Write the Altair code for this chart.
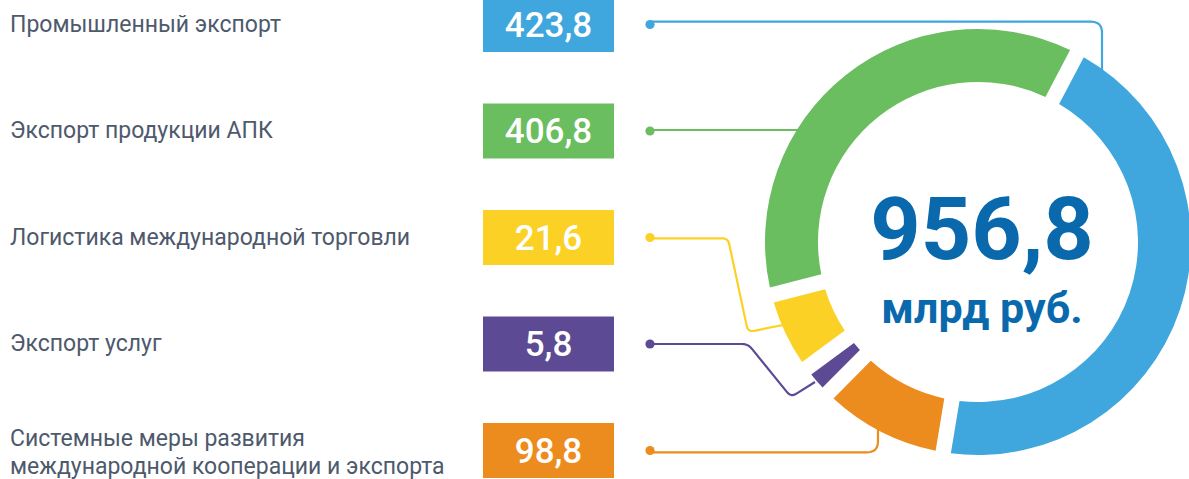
import math
import altair as alt
import pandas as pd

# ---- data ----
categories = [
    "Промышленный экспорт",
    "Экспорт продукции АПК",
    "Логистика международной торговли",
    "Экспорт услуг",
    "Системные меры развития\nмеждународной кооперации и экспорта",
]
values = [423.8, 406.8, 21.6, 5.8, 98.8]
value_labels = ["423,8", "406,8", "21,6", "5,8", "98,8"]
# visual arc spans (degrees) as drawn in the original (not to scale there)
arc_span_deg = [161.7, 132.1, 22.0, 8.8, 35.4]
# clockwise drawing order of the ring, starting at the blue slice
ring_order = [0, 4, 3, 2, 1]
colors = ["#3fa7dd", "#6abe60", "#fcd125", "#5d4a94", "#ec8c1e"]
total_label = f"{sum(values):.1f}".replace(".", ",")
unit_label = "млрд руб."

# ---- layout (pixels) ----
W, H = 1189, 479
row_top, row_step, box_h = 24.5, 106.5, 55
cx, cy, r_out, r_in = 978, 242, 213, 160
start_angle = math.radians(27.7)
line_h = 28

rows = pd.DataFrame({
    "category": categories,
    "value": values,
    "vlabel": value_labels,
    "arc": arc_span_deg,
    "order": [ring_order.index(i) for i in range(len(categories))],
})
rows["yc"] = [row_top + i * row_step for i in range(len(categories))]
rows["y0"] = rows["yc"] - box_h / 2
rows["y1"] = rows["yc"] + box_h / 2
rows["ylab"] = [yc - (c.count("\n")) * line_h / 2 + (2 if "\n" in c else 0)
                for yc, c in zip(rows["yc"], categories)]

# connector corner points (layout, pixels) and corner radius
connector_paths = {
    0: ([(650, 21.7), (1102, 21.7), (1102, 72)], 11),
    1: ([(650, 130), (798, 130)], 0),
    2: ([(650, 238.3), (728, 238.3), (748, 332), (783, 325)], 6),
    3: ([(650, 344), (748, 344), (791, 397), (815, 382)], 6),
    4: ([(650, 452.3), (878, 452.3), (878, 428)], 11),
}


def rounded(points, r):
    if r <= 0 or len(points) < 3:
        return points
    out = [points[0]]
    for i in range(1, len(points) - 1):
        ax, ay = points[i - 1]
        px, py = points[i]
        bx, by = points[i + 1]
        d1 = math.hypot(ax - px, ay - py)
        d2 = math.hypot(bx - px, by - py)
        rr = min(r, d1 / 2, d2 / 2)
        s = (px + (ax - px) / d1 * rr, py + (ay - py) / d1 * rr)
        e = (px + (bx - px) / d2 * rr, py + (by - py) / d2 * rr)
        for k in range(7):
            t = k / 6
            x = (1 - t) ** 2 * s[0] + 2 * (1 - t) * t * px + t ** 2 * e[0]
            y = (1 - t) ** 2 * s[1] + 2 * (1 - t) * t * py + t ** 2 * e[1]
            out.append((x, y))
    out.append(points[-1])
    return out


conn = pd.DataFrame([
    {"category": categories[k], "x": p[0], "y": p[1], "seq": j}
    for k, (pts, rad) in connector_paths.items() for j, p in enumerate(rounded(pts, rad))
])

xs = alt.Scale(domain=[0, W], nice=False, zero=False)
ys = alt.Scale(domain=[0, H], nice=False, zero=False, reverse=True)
col = alt.Color("category:N", scale=alt.Scale(domain=categories, range=colors), legend=None)

base = alt.Chart(rows)

connectors = alt.Chart(conn).mark_line(strokeWidth=2.2, strokeJoin="round").encode(
    x=alt.X("x:Q", scale=xs, axis=None),
    y=alt.Y("y:Q", scale=ys, axis=None),
    color=col,
    detail="category:N",
    order="seq:Q",
)

dots = base.mark_circle(size=85, opacity=1).encode(
    x=alt.value(650),
    y=alt.Y("yc:Q", scale=ys, axis=None),
    color=col,
)

ring = base.mark_arc(radius=r_out, radius2=r_in, padAngle=0.058).encode(
    x=alt.value(cx),
    y=alt.value(cy),
    theta=alt.Theta("arc:Q", stack=True,
                    scale=alt.Scale(domain=[0, 360], range=[start_angle, start_angle + 2 * math.pi])),
    color=col,
    order=alt.Order("order:Q"),
)

boxes = base.mark_rect().encode(
    x=alt.value(483), x2=alt.value(614),
    y=alt.Y("y0:Q", scale=ys, axis=None), y2="y1:Q",
    color=col,
)

box_text = base.mark_text(font="Roboto", fontSize=35, fontWeight=500, color="white",
                          align="center", baseline="middle", dy=1).encode(
    x=alt.value(548.5),
    y=alt.Y("yc:Q", scale=ys, axis=None),
    text="vlabel:N",
)

labels = base.mark_text(font="Roboto", fontSize=23, color="#4e596c", align="left",
                        baseline="middle", lineBreak="\n", lineHeight=line_h).encode(
    x=alt.value(10),
    y=alt.Y("ylab:Q", scale=ys, axis=None),
    text="category:N",
)

center = alt.Chart(pd.DataFrame({"t": [total_label], "u": [unit_label]}))
total_text = center.mark_text(font="Roboto", fontSize=88, fontWeight="bold", color="#0a69ad",
                              align="center", baseline="alphabetic").encode(
    x=alt.value(982), y=alt.value(259), text="t:N")
unit_text = center.mark_text(font="Roboto", fontSize=43, fontWeight="bold", color="#0a69ad",
                             align="center", baseline="alphabetic").encode(
    x=alt.value(982), y=alt.value(323), text="u:N")

chart = alt.layer(connectors, dots, ring, boxes, box_text, labels, total_text, unit_text).properties(
    width=W, height=H, padding=0, autosize="none", background="white"
).configure_view(stroke=None)

chart.save("out.html", embed_options={"renderer": "svg", "actions": False})
